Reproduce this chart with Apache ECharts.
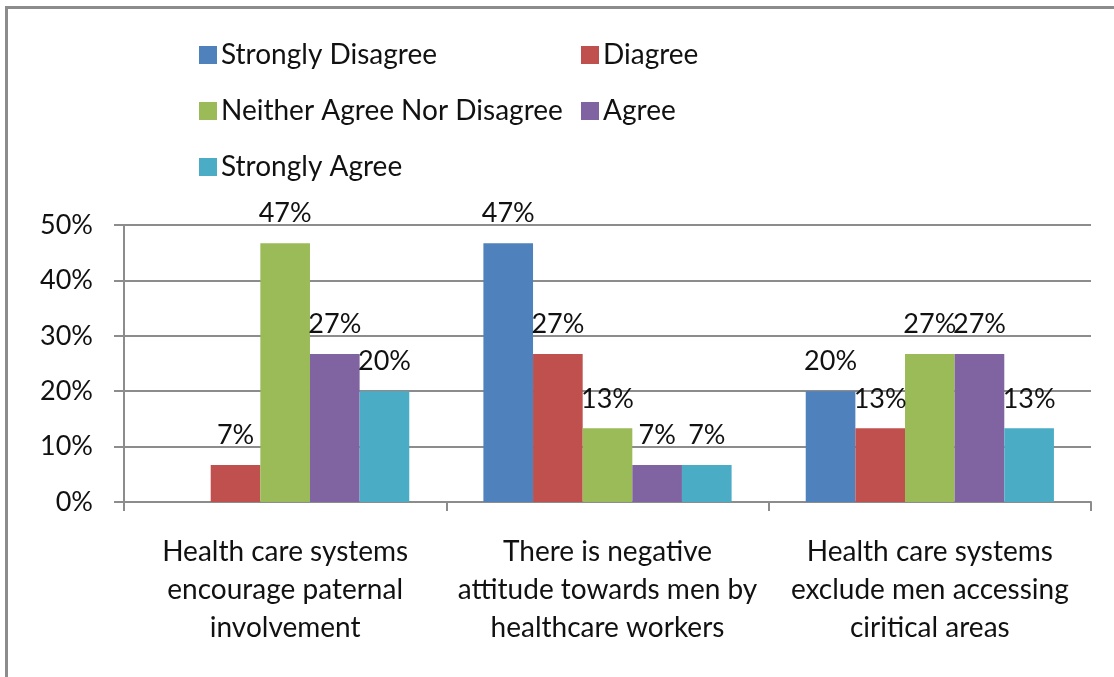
<!DOCTYPE html>
<html>
<head>
<meta charset="utf-8">
<style>
html,body{margin:0;padding:0;background:#fff;}
#chart{width:1114px;height:677px;}
</style>
<script src="https://cdn.jsdelivr.net/npm/echarts@6/dist/echarts.min.js"></script>
</head>
<body>
<div id="chart"></div>
<script>
const categories = [
  "Health care systems\nencourage paternal\ninvolvement",
  "There is negative\nattitude towards men by\nhealthcare workers",
  "Health care systems\nexclude men accessing\nciritical areas"
];
const seriesNames = ["Strongly Disagree", "Diagree", "Neither Agree Nor Disagree", "Agree", "Strongly Agree"];
const stronglyDisagree = [null, 46.7, 20.0];
const diagree = [6.7, 26.7, 13.3];
const neither = [46.7, 13.3, 26.7];
const agree = [26.7, 6.7, 26.7];
const stronglyAgree = [20.0, 6.7, 13.3];
const yTicks = [0, 10, 20, 30, 40, 50];

const colors = ["#4F81BD", "#C0504D", "#9BBB59", "#8064A2", "#4BACC6"];
const values = [stronglyDisagree, diagree, neither, agree, stronglyAgree];
const FONT = "Lato";
const TXT = "#111";

const chart = echarts.init(document.getElementById('chart'), null, {renderer: 'canvas'});
const legendText = {fontFamily: FONT, fontSize: 28, color: TXT, lineHeight: 28, padding: [0, 0, 0, -1]};
chart.setOption({
  animation: false,
  color: colors,
  graphic: [{
    type: 'rect', silent: true, z: -10,
    shape: {x: 6.5, y: 7.5, width: 1300, height: 900},
    style: {fill: 'none', stroke: '#8c8c8c', lineWidth: 3}
  }],
  legend: [{
    orient: 'vertical', left: 194, top: 36,
    itemWidth: 18, itemHeight: 18, itemGap: 28,
    icon: 'rect',
    data: [seriesNames[0], seriesNames[2], seriesNames[4]],
    textStyle: legendText
  }, {
    orient: 'vertical', left: 576, top: 36,
    itemWidth: 18, itemHeight: 18, itemGap: 28,
    icon: 'rect',
    data: [seriesNames[1], seriesNames[3]],
    textStyle: legendText
  }],
  grid: {left: 124, right: 23, top: 225, bottom: 175, containLabel: false},
  xAxis: {
    type: 'category',
    data: categories,
    axisLine: {lineStyle: {color: '#8c8c8c', width: 2}},
    axisTick: {show: true, length: 9, lineStyle: {color: '#8c8c8c', width: 2}},
    axisLabel: {fontFamily: FONT, fontSize: 28, color: TXT, lineHeight: 38, margin: 31, interval: 0}
  },
  yAxis: {
    type: 'value', min: 0, max: 50, interval: 10,
    axisLine: {show: true, lineStyle: {color: '#8c8c8c', width: 2}},
    axisTick: {show: true, length: 10, lineStyle: {color: '#8c8c8c', width: 2}},
    splitLine: {lineStyle: {color: '#8c8c8c', width: 2}},
    axisLabel: {fontFamily: FONT, fontSize: 27, color: TXT, margin: 31,
      formatter: v => yTicks.includes(v) ? v + '%' : ''}
  },
  series: seriesNames.map((name, i) => ({
    name: name,
    type: 'bar',
    data: values[i],
    barGap: '0%',
    barCategoryGap: '23%',
    itemStyle: {color: colors[i]},
    label: {
      show: true, position: 'top', distance: 16,
      fontFamily: FONT, fontSize: 27, color: TXT,
      formatter: p => p.value == null ? '' : Math.round(p.value) + '%'
    }
  }))
});
</script>
</body>
</html>
